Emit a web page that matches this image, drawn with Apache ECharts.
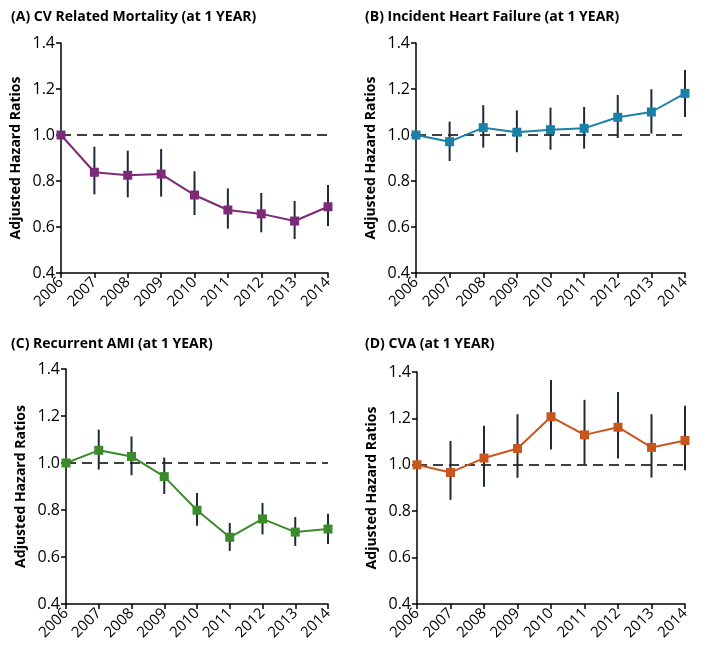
<!DOCTYPE html>
<html>
<head>
<meta charset="utf-8">
<script src="https://cdn.jsdelivr.net/npm/echarts@6/dist/echarts.min.js"></script>
<style>
  html, body { margin: 0; padding: 0; background: #fff; }
  #chart { width: 708px; height: 650px; }
</style>
</head>
<body>
<div id="chart"></div>
<script>
const years = ['2006', '2007', '2008', '2009', '2010', '2011', '2012', '2013', '2014'];
const yTicks = [0.4, 0.6, 0.8, 1.0, 1.2, 1.4];

// (A) CV related mortality
const mortality = [1.0, 0.838, 0.825, 0.830, 0.739, 0.674, 0.657, 0.626, 0.688];
const mortalityLow = [1.0, 0.742, 0.729, 0.732, 0.652, 0.593, 0.577, 0.548, 0.604];
const mortalityHigh = [1.0, 0.949, 0.932, 0.939, 0.842, 0.768, 0.748, 0.713, 0.783];

// (B) incident heart failure
const heartFailure = [1.0, 0.971, 1.032, 1.012, 1.023, 1.029, 1.077, 1.100, 1.181];
const heartFailureLow = [1.0, 0.887, 0.945, 0.925, 0.936, 0.941, 0.987, 1.006, 1.078];
const heartFailureHigh = [1.0, 1.058, 1.130, 1.107, 1.119, 1.122, 1.174, 1.199, 1.283];

// (C) recurrent AMI
const recurrentAmi = [1.0, 1.054, 1.028, 0.942, 0.799, 0.684, 0.762, 0.706, 0.719];
const recurrentAmiLow = [1.0, 0.972, 0.948, 0.868, 0.733, 0.626, 0.696, 0.647, 0.655];
const recurrentAmiHigh = [1.0, 1.142, 1.113, 1.023, 0.872, 0.745, 0.830, 0.770, 0.784];

// (D) CVA
const cva = [1.0, 0.967, 1.029, 1.070, 1.207, 1.129, 1.162, 1.075, 1.105];
const cvaLow = [1.0, 0.849, 0.905, 0.944, 1.066, 1.001, 1.027, 0.945, 0.976];
const cvaHigh = [1.0, 1.103, 1.168, 1.218, 1.366, 1.280, 1.314, 1.218, 1.255];

const panels = [
  { title: '(A) CV Related Mortality (at 1 YEAR)', color: '#7c2a78', mid: mortality, low: mortalityLow, high: mortalityHigh,
    grid: { left: 61, top: 43, width: 267, height: 230 }, titlePos: { left: 6, top: 5 } },
  { title: '(B) Incident Heart Failure (at 1 YEAR)', color: '#1b80a7', mid: heartFailure, low: heartFailureLow, high: heartFailureHigh,
    grid: { left: 416, top: 43, width: 269, height: 230 }, titlePos: { left: 360, top: 5 } },
  { title: '(C) Recurrent AMI (at 1 YEAR)', color: '#3b8a2b', mid: recurrentAmi, low: recurrentAmiLow, high: recurrentAmiHigh,
    grid: { left: 66, top: 369, width: 262, height: 235 }, titlePos: { left: 6, top: 332 } },
  { title: '(D) CVA (at 1 YEAR)', color: '#c9561c', mid: cva, low: cvaLow, high: cvaHigh,
    grid: { left: 417, top: 372, width: 268, height: 232 }, titlePos: { left: 360, top: 332 } }
];

const FONT = 'Open Sans';
const option = {
  animation: false,
  textStyle: { fontFamily: FONT },
  title: [],
  grid: [],
  xAxis: [],
  yAxis: [],
  series: []
};

panels.forEach((p, i) => {
  option.title.push({
    text: p.title,
    left: p.titlePos.left,
    top: p.titlePos.top,
    textStyle: { fontFamily: FONT, fontSize: 14, fontWeight: 'bold', color: '#000' }
  });
  option.grid.push(p.grid);
  option.xAxis.push({
    type: 'category',
    gridIndex: i,
    data: years,
    boundaryGap: false,
    axisLine: { lineStyle: { color: '#000', width: 1.5 } },
    axisTick: { alignWithLabel: true, length: 5, lineStyle: { color: '#000', width: 1.5 } },
    axisLabel: { rotate: 45, fontSize: 15, color: '#000', margin: 7, interval: 0 }
  });
  option.yAxis.push({
    type: 'value',
    gridIndex: i,
    min: 0.4,
    max: 1.4,
    interval: 0.2,
    name: 'Adjusted Hazard Ratios',
    nameLocation: 'middle',
    nameGap: 38,
    nameTextStyle: { fontSize: 14, fontWeight: 'bold', color: '#000' },
    axisLine: { show: true, lineStyle: { color: '#000', width: 1.5 } },
    axisTick: { show: true, length: 5, lineStyle: { color: '#000', width: 1.5 } },
    splitLine: { show: false },
    axisLabel: { fontSize: 16, color: '#000', margin: 6, formatter: v => v.toFixed(1) }
  });

  // error bars
  option.series.push({
    type: 'custom',
    xAxisIndex: i,
    yAxisIndex: i,
    data: years.map((y, k) => [k, p.low[k], p.high[k]]),
    encode: { x: 0, y: [1, 2] },
    z: 2,
    renderItem: (params, api) => {
      const a = api.coord([api.value(0), api.value(1)]);
      const b = api.coord([api.value(0), api.value(2)]);
      return {
        type: 'line',
        shape: { x1: a[0], y1: a[1], x2: b[0], y2: b[1] },
        style: { stroke: '#1e2a3a', lineWidth: 2 }
      };
    }
  });

  // reference line at 1.0 + estimates
  option.series.push({
    type: 'line',
    xAxisIndex: i,
    yAxisIndex: i,
    data: p.mid,
    z: 3,
    symbol: 'rect',
    symbolSize: 9,
    lineStyle: { color: p.color, width: 2 },
    itemStyle: { color: p.color },
    markLine: {
      silent: true,
      symbol: 'none',
      label: { show: false },
      lineStyle: { color: '#000', type: [10, 6], width: 1.5 },
      data: [{ yAxis: 1.0 }],
      z: 1
    }
  });
});

const chart = echarts.init(document.getElementById('chart'));
chart.setOption(option);
</script>
</body>
</html>
